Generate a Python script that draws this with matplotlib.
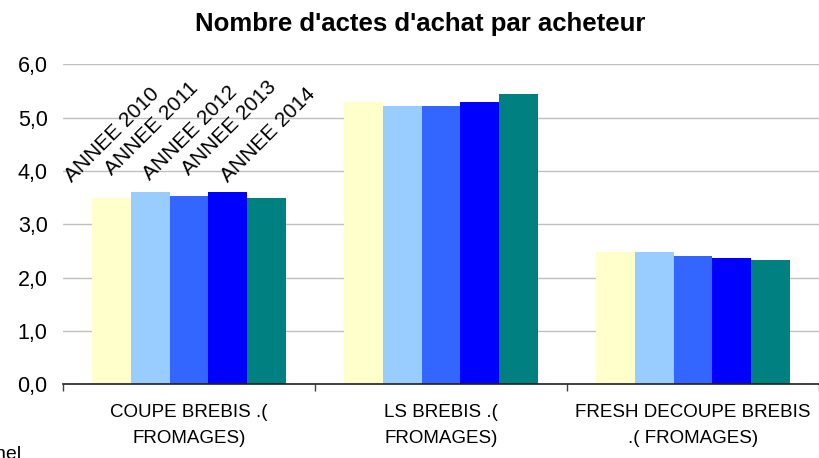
import matplotlib
matplotlib.use("Agg")
import matplotlib.pyplot as plt
import numpy as np

categories = ["COUPE BREBIS .(\nFROMAGES)", "LS BREBIS .(\nFROMAGES)", "FRESH DECOUPE BREBIS\n.( FROMAGES)"]
series_names = ["ANNEE 2010", "ANNEE 2011", "ANNEE 2012", "ANNEE 2013", "ANNEE 2014"]
v2010 = [3.49, 5.29, 2.48]
v2011 = [3.61, 5.22, 2.48]
v2012 = [3.53, 5.22, 2.41]
v2013 = [3.61, 5.29, 2.37]
v2014 = [3.49, 5.44, 2.33]
series_values = [v2010, v2011, v2012, v2013, v2014]
colors = ["#FFFFCC", "#99CCFF", "#3366FF", "#0000FF", "#008080"]
yticks = [0, 1, 2, 3, 4, 5, 6]
ytick_labels = ["0,0", "1,0", "2,0", "3,0", "4,0", "5,0", "6,0"]
title = "Nombre d'actes d'achat par acheteur"

plt.rcParams['font.family'] = ['Liberation Sans', 'DejaVu Sans']

fig = plt.figure(figsize=(8.2, 4.58), dpi=100)
ax = fig.add_axes([63 / 820, 1 - 384.3 / 458, (819 - 63) / 820, (384.3 - 64.3) / 458])

centers = np.arange(len(categories)) + 0.5
bw = 0.1545
for i, (name, vals, c) in enumerate(zip(series_names, series_values, colors)):
    xs = centers + (i - 2) * bw
    ax.bar(xs, vals, width=bw, color=c, edgecolor='none', zorder=2)
    ax.annotate(name, (xs[0], vals[0]), xytext=(1, 9), textcoords='offset points',
                rotation=45, ha='center', va='bottom', fontsize=15, zorder=3)

ax.set_xlim(0, 3)
ax.set_ylim(0, 6)
ax.set_yticks(yticks)
ax.set_yticklabels(ytick_labels, fontsize=15.5)
ax.tick_params(axis='y', length=0, pad=11)
ax.set_xticks(centers)
ax.set_xticklabels(categories, fontsize=13.5, linespacing=1.75)
ax.tick_params(axis='x', which='major', length=0, pad=14)
ax.set_xticks([0, 1, 2, 3], minor=True)
ax.tick_params(axis='x', which='minor', length=5, width=1, color='#404040', direction='out')
ax.yaxis.grid(True, color='#c0c0c0', linewidth=1)
ax.set_axisbelow(True)
for s in ['top', 'right', 'left']:
    ax.spines[s].set_visible(False)
ax.spines['bottom'].set_color('#202020')
ax.spines['bottom'].set_linewidth(1.2)

fig.text(420 / 820, 1 - 24 / 458, title, ha='center', va='center', fontsize=18.5, fontweight='bold')
fig.text(22 / 820, 1 - 446 / 458, "Panel", ha='right', va='top', fontsize=14)

fig.savefig("out.png", dpi=100)
